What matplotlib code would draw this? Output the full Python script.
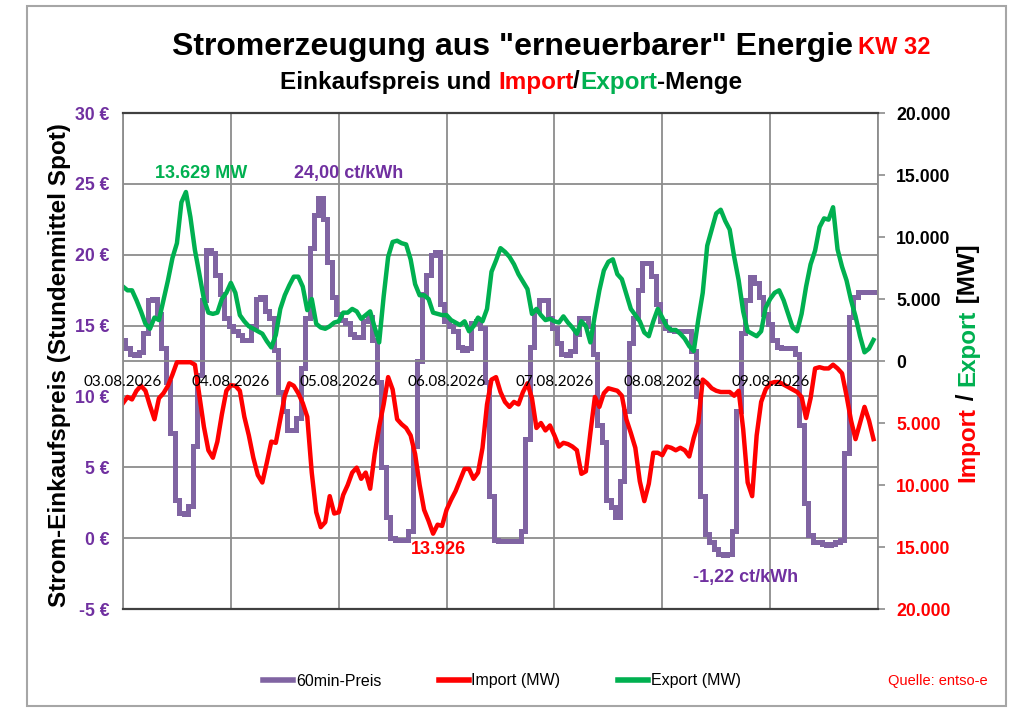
import matplotlib
matplotlib.use("Agg")
import matplotlib.pyplot as plt
from matplotlib import font_manager
from matplotlib.lines import Line2D
from matplotlib.patches import Rectangle
import numpy as np

# hourly values, 03.08.2026 00:00 .. 09.08.2026 23:00
price = [  # ct/kWh
    14.0, 13.4, 13.0, 12.9, 13.1, 14.5, 16.8, 16.9, 15.8, 13.4, 11.0, 7.4, 2.7, 1.8, 1.7, 2.3, 6.5, 11.5, 16.8, 20.3, 20.1, 18.6, 17.2, 15.5,
    15.0, 14.6, 14.3, 14.0, 14.0, 15.0, 16.9, 17.0, 16.0, 15.5, 13.3, 10.3, 9.0, 7.6, 7.6, 8.5, 12.0, 15.5, 20.5, 22.8, 24.0, 22.5, 19.5, 17.0,
    15.8, 15.4, 15.2, 14.4, 14.2, 14.2, 15.3, 15.6, 14.0, 11.0, 5.0, 1.5, 0.0, -0.1, -0.1, -0.1, 0.5, 6.5, 12.5, 17.2, 18.6, 20.0, 20.2, 16.5,
    15.3, 15.0, 14.6, 13.5, 13.3, 13.4, 15.2, 15.3, 14.8, 11.0, 3.0, -0.1, -0.2, -0.2, -0.2, -0.2, -0.2, 0.5, 7.0, 13.5, 16.0, 16.8, 16.8, 15.5,
    14.8, 13.8, 13.0, 12.9, 13.2, 14.4, 15.5, 15.5, 15.0, 13.0, 8.0, 6.8, 2.7, 2.2, 1.5, 4.0, 9.0, 13.8, 15.5, 17.5, 19.4, 19.4, 18.5, 16.5,
    15.3, 14.8, 14.7, 14.6, 14.6, 14.6, 14.6, 13.2, 10.0, 3.0, 0.3, -0.3, -0.8, -1.1, -1.22, -1.1, 0.5, 9.0, 14.5, 16.8, 18.4, 18.0, 17.0, 15.8,
    15.1, 14.0, 13.5, 13.4, 13.4, 13.4, 13.0, 8.0, 2.5, 0.2, -0.3, -0.3, -0.4, -0.5, -0.4, -0.3, -0.1, 6.0, 15.6, 17.0, 17.4, 17.4, 17.4, 17.4,
]

export_mw = [
    6000, 5700, 5700, 4900, 4000, 3000, 2600, 3500, 3300, 4900, 6500, 8300, 9500, 12800, 13629, 11600, 8950, 7000, 5000, 3900, 3800, 3900, 5000, 5500,
    6300, 5500, 3700, 3200, 2800, 2600, 2400, 2200, 1600, 1100, 2100, 4200, 5300, 6100, 6800, 6800, 6000, 4100, 5000, 3000, 2700, 2600, 2800, 3100,
    3200, 3900, 3900, 4200, 4000, 3400, 3700, 4000, 2700, 1500, 5200, 8400, 9600, 9700, 9500, 9400, 8200, 6200, 5300, 5300, 5000, 3900, 3800, 3700,
    3700, 3300, 3100, 2900, 3200, 2400, 2800, 3500, 3200, 4200, 7200, 8100, 9100, 8800, 8400, 7800, 7000, 6400, 5800, 3800, 4200, 3700, 3300, 3400,
    3200, 3100, 3600, 3100, 2700, 2200, 3200, 2800, 1500, 3700, 5700, 7300, 8000, 8200, 7000, 6600, 5400, 4200, 3700, 3200, 2300, 2000, 3200, 4200,
    3500, 2800, 2500, 2500, 2200, 1800, 1200, 800, 3300, 5500, 9300, 10600, 11900, 12200, 11300, 10600, 8400, 6500, 4000, 2400, 2200, 2000, 2400, 4300,
    5000, 5500, 5700, 4900, 3800, 2700, 2400, 3800, 6000, 7800, 8900, 10800, 11500, 11400, 12400, 9000, 7600, 6500, 4900, 3600, 2000, 700, 1000, 1700,
]

import_mw = [
    3400, 2900, 3100, 2400, 2000, 2400, 3600, 4700, 3000, 2600, 2000, 1100, 100, 100, 100, 100, 300, 2800, 5300, 7200, 7800, 6500, 4300, 2400,
    1950, 2000, 2400, 4500, 6000, 7800, 9200, 9800, 8200, 6500, 6600, 4700, 2800, 1800, 2000, 2600, 3400, 4500, 9000, 12200, 13400, 13000, 10900, 12300,
    12200, 10800, 10000, 9000, 8600, 9500, 9000, 10300, 7500, 5300, 3500, 1300, 2300, 4700, 5100, 5400, 6000, 7500, 10000, 12000, 12900, 13926, 13200, 13300,
    12000, 11200, 10500, 9600, 8700, 8700, 9500, 9000, 7000, 3500, 1500, 1300, 2500, 3300, 3700, 3300, 3500, 2500, 1800, 3000, 5400, 5000, 5600, 5200,
    6000, 6900, 6600, 6700, 6900, 7200, 9100, 8900, 5800, 2900, 3700, 2600, 2200, 2300, 2400, 2800, 4700, 5800, 7000, 9700, 11300, 9900, 7400, 7400,
    7600, 6900, 7000, 7200, 7000, 7200, 7700, 6200, 5000, 1500, 1800, 2200, 2400, 2500, 2500, 2500, 2800, 2400, 5500, 9800, 10900, 6000, 3300, 2300,
    1800, 1700, 1700, 1900, 2100, 2300, 2500, 2900, 4600, 3000, 600, 500, 600, 600, 300, 600, 1000, 2800, 4800, 6300, 5000, 3700, 4800, 6300,
]

days = ["03.08.2026", "04.08.2026", "05.08.2026", "06.08.2026",
        "07.08.2026", "08.08.2026", "09.08.2026"]

PURPLE = "#8064A2"
PURPLE_TXT = "#7030A0"
RED = "#FF0000"
GREEN = "#00B050"
GRID = "#8C8C8C"

names = {f.name for f in font_manager.fontManager.ttflist}
FONT = "Liberation Sans" if "Liberation Sans" in names else "DejaVu Sans"
NARROW = "Liberation Sans Narrow" if "Liberation Sans Narrow" in names else FONT
plt.rcParams["font.family"] = FONT

hours = np.arange(len(price))

fig = plt.figure(figsize=(10.24, 7.24), dpi=100)
ax = fig.add_axes([123 / 1024, 1 - 609 / 724, 755 / 1024, 496 / 724])
ax2 = ax.twinx()

# gridlines
ax.set_xlim(0, 168)
ax.set_ylim(-5, 30)
ax.set_xticks(np.arange(0, 169, 24))
ax.set_yticks(np.arange(-5, 31, 5))
ax.grid(True, color=GRID, lw=1.3)
ax.set_axisbelow(True)
ax.tick_params(axis="x", length=0, labelbottom=False)
ax.tick_params(axis="y", length=0, pad=10, labelsize=12.7, labelcolor=PURPLE_TXT)
ax.set_yticklabels([f"{v} €" for v in range(-5, 31, 5)], fontweight="bold")
for s in ax.spines.values():
    s.set_visible(False)

ax2.set_ylim(-20000, 20000)
ax2.axhline(0, color=GRID, lw=1.3, zorder=0)
ticks = np.arange(-20000, 20001, 5000)
ax2.set_yticks(ticks)
ax2.set_yticklabels([f"{abs(v):,}".replace(",", ".") for v in ticks], fontweight="bold")
for lab, v in zip(ax2.get_yticklabels(), ticks):
    lab.set_color(RED if v < 0 else "black")
ax2.tick_params(axis="y", length=5, width=1.2, color=GRID, pad=8, labelsize=12.7)
for k, s in ax2.spines.items():
    if k in ("top", "bottom"):
        s.set_color("#404040")
        s.set_linewidth(1.6)
    else:
        s.set_color(GRID)
        s.set_linewidth(1.3)

ax.plot(hours, price, color=PURPLE, lw=3.6, drawstyle="steps-mid", solid_joinstyle="miter")
ax2.plot(hours, -np.array(import_mw), color=RED, lw=3.2)
ax2.plot(hours, export_mw, color=GREEN, lw=3.2)

for i, d in enumerate(days):
    ax2.text(i * 24, -1150, d, ha="center", va="top", fontsize=11,
             family="Lato", color="black", zorder=10)

# annotations
bold = dict(fontweight="bold", fontsize=13, ha="center", va="center")
ax.text(17.3, 25.7, "13.629 MW", color=GREEN, **bold)
ax.text(50.1, 25.7, "24,00 ct/kWh", color=PURPLE_TXT, **bold)
ax.text(70.1, -0.8, "13.926", color=RED, **bold)
ax.text(138.6, -2.75, "-1,22 ct/kWh", color=PURPLE_TXT, **bold)

# titles
fig.text(513 / 1024, 1 - 47 / 724, 'Stromerzeugung aus "erneuerbarer" Energie',
         ha="center", va="center", fontsize=23, fontweight="bold")
fig.text(858 / 1024, 1 - 47 / 724, "KW 32", ha="left", va="center",
         fontsize=17, fontweight="bold", color=RED)

fig.canvas.draw()
renderer = fig.canvas.get_renderer()


def multicolor(parts, x, y, rotation=0, **kw):
    texts = []
    for s, c in parts:
        t = fig.text(0, 0, s, color=c, rotation=rotation, **kw)
        texts.append(t)
    sizes = []
    for t in texts:
        bb = t.get_window_extent(renderer)
        sizes.append(bb.height if rotation else bb.width)
    total = sum(sizes)
    W, H = fig.bbox.width, fig.bbox.height
    if rotation:
        cur = y * H - total / 2
        for t, sz in zip(texts, sizes):
            t.set_position((x, cur / H))
            t.set_ha("center")
            t.set_va("bottom")
            cur += sz
    else:
        cur = x * W - total / 2
        for t, sz in zip(texts, sizes):
            t.set_position((cur / W, y))
            t.set_ha("left")
            t.set_va("center")
            cur += sz


multicolor([("Einkaufspreis und ", "black"), ("Import", RED), ("/", "black"),
            ("Export", GREEN), ("-Menge", "black")],
           511 / 1024, 1 - 82 / 724, fontsize=17.5, fontweight="bold")
multicolor([("Import", RED), (" / ", "black"), ("Export", GREEN), (" [MW]", "black")],
           968 / 1024, 1 - 363 / 724, rotation=90, fontsize=17.4, fontweight="bold")

fig.text(60 / 1024, 1 - 365 / 724, "Strom-Einkaufspreis (Stundenmittel Spot)",
         rotation=90, ha="center", va="center", fontsize=17.5, fontweight="bold")

handles = [Line2D([], [], color=PURPLE, lw=4),
           Line2D([], [], color=RED, lw=4),
           Line2D([], [], color=GREEN, lw=4)]
fig.legend(handles, ["60min-Preis", "Import (MW)", "Export (MW)"], ncol=3,
           loc="center", bbox_to_anchor=(502 / 1024, 1 - 681 / 724), frameon=False,
           handlelength=1.9, handletextpad=0.15, columnspacing=3.6,
           prop={"family": NARROW, "size": 11.5})
fig.text(938 / 1024, 1 - 681 / 724, "Quelle: entso-e", ha="center", va="center",
         fontsize=10.5, color=RED, family=NARROW)

fig.patches.append(Rectangle((27 / 1024, 1 - 706 / 724), 979 / 1024, 700 / 724,
                             transform=fig.transFigure, fill=False,
                             edgecolor="#A6A6A6", lw=1.5))

fig.savefig("out.png", dpi=100)
